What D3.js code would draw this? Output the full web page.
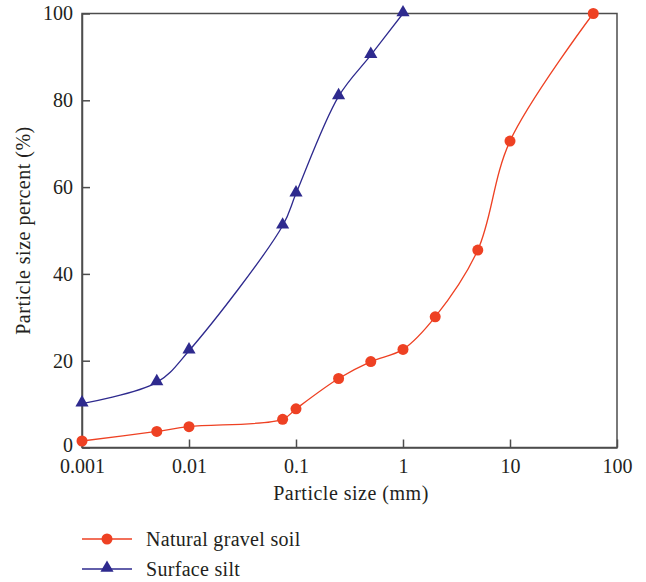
<!DOCTYPE html>
<html><head><meta charset="utf-8">
<script src="https://cdn.jsdelivr.net/npm/d3@7"></script>
<style>body{margin:0;background:#fff} text{font-family:"Liberation Serif","Times New Roman",serif}</style>
</head><body>
<svg id="c" width="646" height="582"></svg>
<script>
const gravelSize = [0.001, 0.005, 0.01, 0.075, 0.1, 0.25, 0.5, 1, 2, 5, 10, 60];
const gravelPct  = [1.5, 3.7, 4.8, 6.5, 8.9, 15.9, 19.8, 22.6, 30.1, 45.5, 70.6, 100];
const siltSize = [0.001, 0.005, 0.01, 0.075, 0.1, 0.25, 0.5, 1];
const siltPct  = [10.1, 15.0, 22.3, 51.1, 58.5, 80.9, 90.4, 100];
const xTicks = [0.001, 0.01, 0.1, 1, 10, 100];
const xTickLabels = ["0.001", "0.01", "0.1", "1", "10", "100"];
const yTicks = [0, 20, 40, 60, 80, 100];
const seriesNames = ["Natural gravel soil", "Surface silt"];
const colors = ["#ee4123", "#2e2a8e"];

const svg = d3.select("#c");
const L = 82, R = 617, T = 13.5, B = 447.5;
const x = d3.scaleLog().domain([0.001, 100]).range([L, R]);
const y = d3.scaleLinear().domain([0, 100]).range([B, T]);
const fs = 20;
const ls = "0.5px";
const axisCol = "#4d4d4d";
const txtCol = "#231f20";

svg.append("rect").attr("x", L).attr("y", T).attr("width", R - L).attr("height", B - T)
  .attr("fill", "none").attr("stroke", axisCol).attr("stroke-width", 1.5);

const xa = svg.append("g").attr("transform", `translate(0,${B})`)
  .call(d3.axisBottom(x).tickValues(xTicks).tickFormat((d, i) => xTickLabels[i]).tickSizeInner(-8).tickSizeOuter(0).tickPadding(11));
const ya = svg.append("g").attr("transform", `translate(${L},0)`)
  .call(d3.axisLeft(y).tickValues(yTicks).tickSizeInner(-8).tickSizeOuter(0).tickPadding(9));
[xa, ya].forEach(a => {
  a.attr("font-family", null).attr("font-size", null);
  a.select(".domain").attr("stroke", axisCol).attr("stroke-width", 1.5);
  a.selectAll(".tick line").attr("stroke", axisCol).attr("stroke-width", 1.5);
  a.selectAll("text").attr("font-size", fs).attr("fill", txtCol);
});
ya.selectAll(".tick text").filter(d => d === 0).attr("dy", "0.2em");

svg.append("text").attr("x", 351).attr("y", 500).attr("text-anchor", "middle").attr("letter-spacing", ls)
  .attr("font-size", fs).attr("fill", txtCol).text("Particle size (mm)");
svg.append("text").attr("transform", `translate(30,${(T + B) / 2}) rotate(-90)`).attr("text-anchor", "middle")
  .attr("letter-spacing", ls).attr("font-size", fs).attr("fill", txtCol).text("Particle size percent (%)");

const line = d3.line().x(d => x(d[0])).y(d => y(d[1])).curve(d3.curveCatmullRom.alpha(0.5));
const gravel = gravelSize.map((s, i) => [s, gravelPct[i]]);
const silt = siltSize.map((s, i) => [s, siltPct[i]]);

svg.append("path").datum(gravel).attr("d", line).attr("fill", "none").attr("stroke", colors[0]).attr("stroke-width", 1.3);
svg.append("path").datum(silt).attr("d", line).attr("fill", "none").attr("stroke", colors[1]).attr("stroke-width", 1.3);

const tri = d3.symbol().type(d3.symbolTriangle).size(75);
svg.selectAll(".g").data(gravel).enter().append("circle")
  .attr("cx", d => x(d[0])).attr("cy", d => y(d[1])).attr("r", 5.5).attr("fill", colors[0]);
svg.selectAll(".s").data(silt).enter().append("path").attr("d", tri)
  .attr("transform", d => `translate(${x(d[0])},${y(d[1]) - 1})`).attr("fill", colors[1]);

const ly = [539, 569];
seriesNames.forEach((n, i) => {
  svg.append("line").attr("x1", 82).attr("x2", 132).attr("y1", ly[i]).attr("y2", ly[i])
    .attr("stroke", colors[i]).attr("stroke-width", 1.3);
  if (i === 0) svg.append("circle").attr("cx", 107).attr("cy", ly[i]).attr("r", 5.5).attr("fill", colors[i]);
  else svg.append("path").attr("d", tri).attr("transform", `translate(107,${ly[i] - 1})`).attr("fill", colors[i]);
  svg.append("text").attr("x", 146).attr("y", ly[i]).attr("dy", "0.33em").attr("letter-spacing", "0.3px")
    .attr("font-size", fs).attr("fill", txtCol).text(n);
});
</script>
</body></html>
